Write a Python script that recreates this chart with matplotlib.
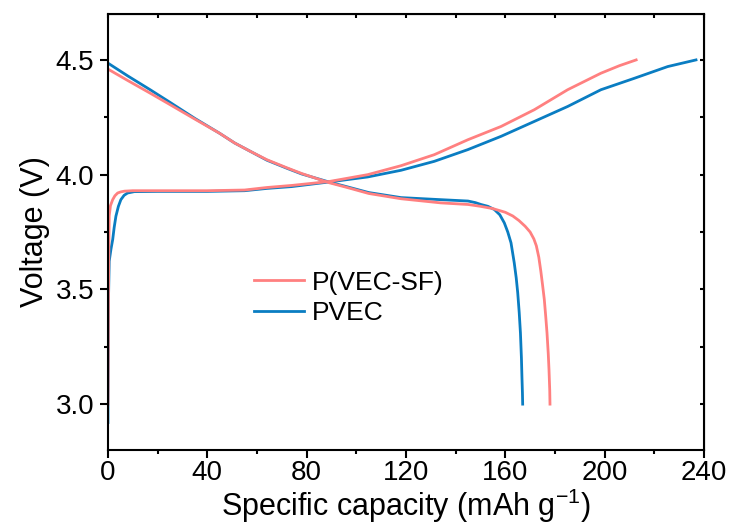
import numpy as np
import matplotlib.pyplot as plt
from matplotlib.ticker import MultipleLocator

plt.rcParams['font.family'] = ['Liberation Sans', 'DejaVu Sans']
plt.rcParams['mathtext.fontset'] = 'custom'
plt.rcParams['mathtext.rm'] = 'Liberation Sans'

# charge / discharge profiles, capacity in mAh/g, voltage in V
sf_chg_cap = [0, 0.2, 0.5, 1.0, 1.9, 2.8, 3.9, 5.2, 6.6, 10, 20, 40, 55, 64, 74,
              89, 104.6, 118, 131.4, 144.9, 158.3, 171.7, 185.1, 198.5, 206, 212.7]
sf_chg_v = [3.0, 3.5, 3.82, 3.865, 3.891, 3.908, 3.92, 3.925, 3.928, 3.93, 3.93,
            3.93, 3.933, 3.944, 3.953, 3.97, 4.0, 4.039, 4.087, 4.152, 4.21,
            4.283, 4.37, 4.442, 4.475, 4.5]
sf_dis_cap = [0, 8, 17, 25, 35, 45, 51, 57.6, 64, 72, 78, 89, 96, 105, 118, 134,
              145, 150, 155, 160, 163, 165.5, 168, 170, 171.5, 172.5, 173.5,
              174.3, 175, 175.7, 176.3, 176.8, 177.3, 177.6, 177.9, 178]
sf_dis_v = [4.46, 4.41, 4.355, 4.305, 4.242, 4.18, 4.138, 4.10, 4.065, 4.03,
            4.005, 3.965, 3.945, 3.918, 3.895, 3.877, 3.87, 3.862, 3.852, 3.836,
            3.82, 3.80, 3.775, 3.75, 3.72, 3.69, 3.64, 3.58, 3.52, 3.457, 3.38,
            3.31, 3.22, 3.15, 3.06, 3.0]

pvec_chg_cap = [0, 0, 0.2, 0.5, 1.2, 1.9, 2.5, 3.2, 4.2, 5.2, 6.5, 7.9, 10.6, 20,
                40, 55, 64, 74, 89, 104.6, 118, 131.4, 144.9, 158.3, 171.7, 185.1,
                198.5, 212, 225.4, 236.8]
pvec_chg_v = [2.92, 3.0, 3.45, 3.623, 3.675, 3.717, 3.77, 3.819, 3.862, 3.891,
              3.91, 3.92, 3.926, 3.927, 3.927, 3.93, 3.94, 3.948, 3.968, 3.99,
              4.019, 4.058, 4.109, 4.167, 4.232, 4.297, 4.37, 4.42, 4.471, 4.5]
pvec_dis_cap = [0, 8, 17, 25, 35, 45, 51, 57.6, 64, 72, 78, 89, 96, 105, 118,
                134, 145, 148, 150.2, 153, 155.6, 157.8, 159.6, 161, 162.3, 163.6,
                164.4, 165, 165.6, 166.1, 166.5, 166.7, 166.9, 167]
pvec_dis_v = [4.486, 4.43, 4.37, 4.315, 4.245, 4.18, 4.138, 4.10, 4.063, 4.028,
              4.003, 3.968, 3.948, 3.922, 3.9, 3.891, 3.885, 3.878, 3.87, 3.862,
              3.848, 3.825, 3.79, 3.75, 3.703, 3.616, 3.55, 3.486, 3.40, 3.31,
              3.2, 3.12, 3.05, 3.0]

c_sf = '#FF8080'
c_pvec = '#0A7DC2'

fig = plt.figure(figsize=(7.31, 5.29), dpi=100)
ax = fig.add_axes([0.1477, 0.1493, 0.8153, 0.8242])

ax.plot(pvec_chg_cap, pvec_chg_v, color=c_pvec, lw=2)
l2, = ax.plot(pvec_dis_cap, pvec_dis_v, color=c_pvec, lw=2, label='PVEC')
ax.plot(sf_chg_cap, sf_chg_v, color=c_sf, lw=2)
l1, = ax.plot(sf_dis_cap, sf_dis_v, color=c_sf, lw=2, label='P(VEC-SF)')

ax.set_xlim(0, 240)
ax.set_ylim(2.8, 4.7)
ax.xaxis.set_major_locator(MultipleLocator(40))
ax.xaxis.set_minor_locator(MultipleLocator(20))
ax.yaxis.set_major_locator(MultipleLocator(0.5))
ax.yaxis.set_minor_locator(MultipleLocator(0.25))
ax.yaxis.set_major_formatter(plt.FormatStrFormatter('%.1f'))

ax.tick_params(which='both', direction='out', width=1.5, labelsize=20,
               top=False, right=False)
ax.tick_params(which='major', length=6)
ax.tick_params(which='minor', length=3)
ax.tick_params(axis='x', pad=1.5)
ax.tick_params(axis='y', pad=4)
for s in ax.spines.values():
    s.set_linewidth(1.5)

# mirrored inward ticks on top and right
sec_x = ax.secondary_xaxis('top')
sec_x.xaxis.set_major_locator(MultipleLocator(20))
sec_x.tick_params(direction='in', length=3, width=1.5, labeltop=False)
sec_y = ax.secondary_yaxis('right')
sec_y.yaxis.set_major_locator(MultipleLocator(0.25))
sec_y.tick_params(direction='in', length=3, width=1.5, labelright=False)

ax.set_xlabel(r'Specific capacity (mAh g$^{\mathregular{-1}}$)', fontsize=22,
              labelpad=0.5)
ax.set_ylabel('Voltage (V)', fontsize=22, labelpad=4)

ax.legend(handles=[l1, l2], frameon=False, fontsize=19, loc='center left',
          bbox_to_anchor=(0.245, 0.349), handlelength=1.9, handletextpad=0.3,
          labelspacing=0.25, borderpad=0, borderaxespad=0)

fig.savefig('out.png', dpi=100)
